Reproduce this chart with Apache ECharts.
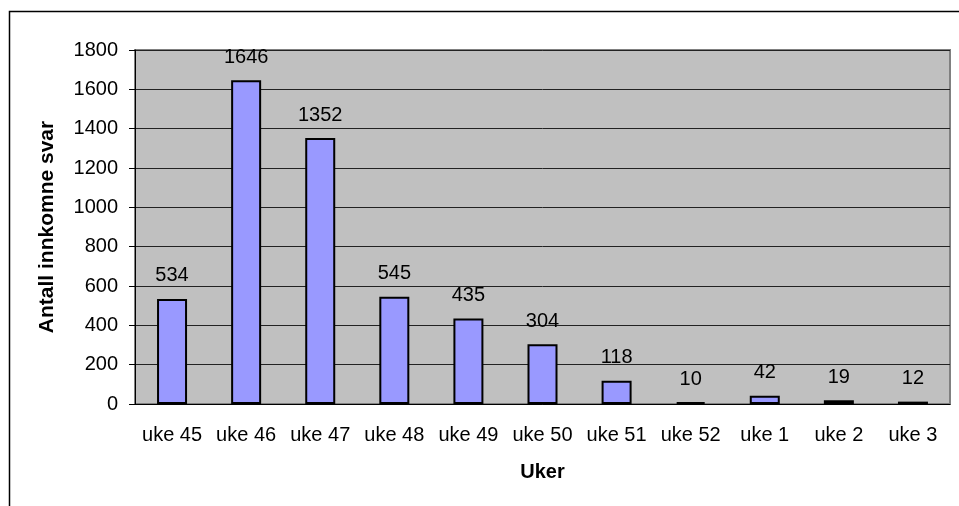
<!DOCTYPE html>
<html>
<head>
<meta charset="utf-8">
<script src="https://cdn.jsdelivr.net/npm/echarts@6/dist/echarts.min.js"></script>
<style>
  html, body { margin: 0; padding: 0; background: #fff; }
  #chart { width: 959px; height: 506px; }
</style>
</head>
<body>
<div id="chart"></div>
<script>
const weeks = ['uke 45', 'uke 46', 'uke 47', 'uke 48', 'uke 49', 'uke 50', 'uke 51', 'uke 52', 'uke 1', 'uke 2', 'uke 3']
const answers = [534, 1646, 1352, 545, 435, 304, 118, 10, 42, 19, 12]
const yTicks = { min: 0, max: 1800, step: 200 }

const chart = echarts.init(document.getElementById('chart'))
const font = 'Arial, "Liberation Sans", sans-serif'

chart.setOption({
  animation: false,
  textStyle: { fontFamily: font },
  graphic: [
    {
      type: 'rect',
      shape: { x: 9.5, y: 11.5, width: 1000, height: 600 },
      style: { fill: 'none', stroke: '#000', lineWidth: 1.5 },
      silent: true
    }
  ],
  grid: {
    left: 135,
    right: 9,
    top: 50,
    bottom: 102,
    show: true,
    backgroundColor: '#c0c0c0',
    borderColor: '#808080',
    borderWidth: 2
  },
  xAxis: {
    type: 'category',
    data: weeks,
    name: 'Uker',
    nameLocation: 'middle',
    nameGap: 58,
    nameTextStyle: { fontSize: 20, fontWeight: 'bold', color: '#000' },
    axisLine: { lineStyle: { color: '#000', width: 1 } },
    axisTick: { length: 6, lineStyle: { color: '#000' } },
    axisLabel: { color: '#000', fontSize: 20, margin: 21, interval: 0, hideOverlap: false }
  },
  yAxis: {
    type: 'value',
    min: yTicks.min,
    max: yTicks.max,
    interval: yTicks.step,
    name: 'Antall innkomne svar',
    nameLocation: 'middle',
    nameGap: 77,
    nameTextStyle: { fontSize: 21, fontWeight: 'bold', color: '#000' },
    axisLine: { show: true, lineStyle: { color: '#000', width: 1 } },
    axisTick: { show: true, inside: false, length: 6, lineStyle: { color: '#000' } },
    axisLabel: { color: '#000', fontSize: 20, margin: 17, formatter: v => String(v) },
    splitLine: { lineStyle: { color: '#222', width: 1 } }
  },
  series: [
    {
      name: 'Antall innkomne svar',
      type: 'bar',
      data: answers,
      barWidth: 30,
      itemStyle: {
        color: '#9999ff',
        borderColor: '#000',
        borderWidth: 2
      },
      label: {
        show: true,
        position: 'top',
        distance: 13,
        color: '#000',
        fontSize: 20
      }
    }
  ]
})
</script>
</body>
</html>
